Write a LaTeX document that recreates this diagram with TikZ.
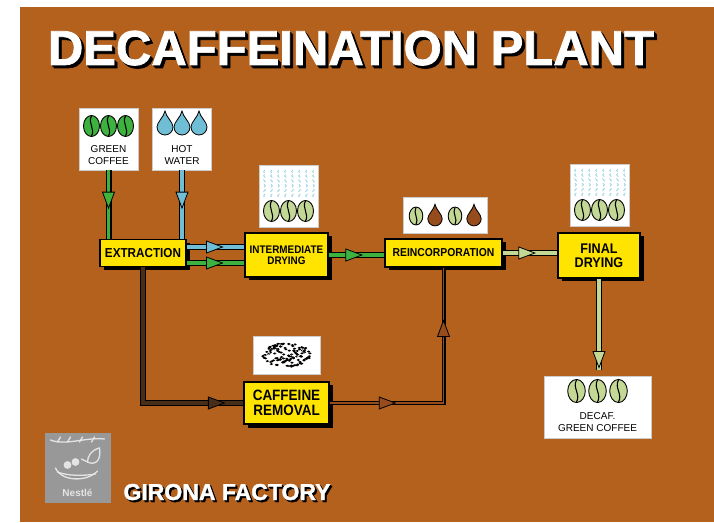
\documentclass[tikz,border=0pt]{standalone}
\usepackage{fontspec}
\setmainfont{Liberation Sans}
\newfontfamily\grasa[FakeBold=1.5]{Liberation Sans}
\newfontfamily\ingust[FakeStretch=0.9]{Liberation Sans}
\usetikzlibrary{positioning, calc, shadows, decorations.markings, decorations.pathmorphing, arrows.meta}

\definecolor{fundal}{RGB}{180,97,30}
\definecolor{galben}{RGB}{255,228,0}
\definecolor{verde}{RGB}{62,178,62}
\definecolor{verdepal}{RGB}{196,216,150}
\definecolor{albastru}{RGB}{112,190,214}
\definecolor{maro}{RGB}{72,46,24}
\definecolor{cafeniu}{RGB}{150,76,28}
\definecolor{gri}{RGB}{152,152,152}
\definecolor{grideschis}{RGB}{228,228,228}

\tikzset{
  proc/.style={draw=black, line width=1.3pt, fill=galben, align=center, inner sep=1pt,
    font=\ingust\bfseries\fontsize{#1}{#1}\selectfont,
    drop shadow={shadow xshift=3.5pt, shadow yshift=-3.5pt, fill=black, opacity=1}},
  icon/.style={draw=gray!40, line width=.6pt, fill=white, inner sep=0pt},
  pipe/.style={draw=black, line width=6pt, postaction={draw=#1, line width=3.4pt}},
  narrow pipe/.style={draw=black, line width=4pt, postaction={draw=#1, line width=1.8pt}},
  tip at/.style 2 args={postaction={decorate, decoration={markings,
    mark=at position #1 with {\draw[black, fill=#2, line width=.8pt, line join=miter]
      (-9,-6) -- (7,0) -- (-9,6) -- cycle;}}}},
  steam/.style={albastru!70, line width=.8pt, decorate,
    decoration={snake, amplitude=.9pt, segment length=4pt}, dash pattern=on 4pt off 2.5pt},
  bean/.pic={
    \draw[black, line width=.9pt, fill=#1] (0,0) ellipse (8 and 10.5);
    \draw[black, line width=1.1pt] (0,10) .. controls (-4,3) and (4,-3) .. (0,-10);
  },
  drop/.pic={
    \draw[black, line width=.8pt, fill=#1] (0,13) .. controls (-1,7) and (-8,2) .. (-8,-3)
      arc[start angle=180, end angle=360, radius=8] .. controls (8,2) and (1,7) .. (0,13) -- cycle;
  },
  mare/.style={font=\grasa\bfseries\fontsize{#1}{#1}\selectfont},
}

\begin{document}
\begin{tikzpicture}[x=1pt, y=1pt]
  \useasboundingbox (0,0) rectangle (714,522);
  % Fundal
  \fill[fundal] (20,0) rectangle (714,515);

  % Titlu cu umbra
  \foreach \d in {1,2,3} {
    \node[mare=49, text=black, anchor=base] (umbra\d) at (351+\d,457-\d) {DECAFFEINATION PLANT};
  }
  \node[mare=49, text=white, anchor=base] (titlu) at (351,457) {DECAFFEINATION PLANT};

  % Cutii de proces
  \node[proc=13, minimum width=86, minimum height=27] (extr) at (143,269) {EXTRACTION};
  \node[proc=11, minimum width=83, minimum height=44] (usc1) at (286.5,267) {INTERMEDIATE\\DRYING};
  \node[proc=11.5, minimum width=117, minimum height=28] (reinc) at (443.5,269) {REINCORPORATION};
  \node[proc=14, minimum width=82, minimum height=45] (usc2) at (599,266.5) {FINAL\\DRYING};
  \node[proc=15, minimum width=85, minimum height=42] (cafeina) at (286.5,119) {CAFFEINE\\REMOVAL};

  % Cutii cu imagini
  \node[icon, minimum width=59, minimum height=62] (cafea) at (108.5,383) {};
  \node[icon, minimum width=59, minimum height=62] (apa) at (182,383) {};
  \node[icon, minimum width=59, minimum height=62] (img1) at (288.5,326) {};
  \node[icon, minimum width=84, minimum height=36] (img2) at (445,307) {};
  \node[icon, minimum width=59, minimum height=62] (img3) at (599.5,327) {};
  \node[icon, minimum width=107, minimum height=62] (decaf) at (597.5,115) {};
  \node[icon, minimum width=67, minimum height=38] (granule) at (286.5,167) {};

  % Cafea verde si apa calda
  \foreach \x in {-17,0,17} {
    \pic at ($(cafea)+(\x,13)$) {bean=verde};
    \pic at ($(apa)+(\x,15)$) {drop=albastru};
  }
  \node[font=\fontsize{10}{11.5}\selectfont, align=center] (cafea txt) at ($(cafea)+(0,-16)$) {GREEN\\COFFEE};
  \node[font=\fontsize{10}{11.5}\selectfont, align=center] (apa txt) at ($(apa)+(0,-16)$) {HOT\\WATER};

  % Abur si boabe uscate
  \foreach \img in {img1,img3} {
    \foreach \x in {-24,-17,...,25} {
      \draw[steam] ($(\img)+(\x,-1)$) -- ($(\img)+(\x,26)$);
    }
    \foreach \x in {-17,0,17} {
      \pic at ($(\img)+(\x,-15)$) {bean=verdepal};
    }
  }

  % Reincorporare: boabe si picaturi
  \pic[scale=.85] at ($(img2)+(-29,-1)$) {bean=verdepal};
  \pic[scale=.9] at ($(img2)+(-10,-1)$) {drop=cafeniu};
  \pic[scale=.85] at ($(img2)+(10,-1)$) {bean=verdepal};
  \pic[scale=.9] at ($(img2)+(29,-1)$) {drop=cafeniu};

  % Cafea decafeinizata
  \foreach \x in {-21,0,21} {
    \pic[scale=1.1] at ($(decaf)+(\x,16)$) {bean=verdepal};
  }
  \node[font=\fontsize{10}{11.5}\selectfont, align=center] (decaf txt) at ($(decaf)+(0,-15)$) {DECAF.\\GREEN COFFEE};

  % Granule de cafeina
  \pgfmathsetseed{12}
  \foreach \k in {1,...,120} {
    \pgfmathsetmacro{\ung}{rnd*360}
    \pgfmathsetmacro{\raza}{sqrt(rnd)}
    \fill[black] ($(granule)+({24*\raza*cos(\ung)},{12*\raza*sin(\ung)})$) ellipse (1.7 and 1.1);
  }
  \foreach \k in {1,...,40} {
    \pgfmathsetmacro{\ung}{rnd*360}
    \pgfmathsetmacro{\raza}{sqrt(rnd)}
    \fill[white] ($(granule)+({22*\raza*cos(\ung)},{11*\raza*sin(\ung)})$) circle (.5);
  }

  % Conducte
  \draw[pipe=verde, tip at={.45}{verde}] (cafea.south) -- (cafea.south |- extr.north);
  \draw[pipe=albastru, tip at={.45}{albastru}] (apa.south) -- (apa.south |- extr.north);
  \draw[pipe=albastru, tip at={.5}{albastru}] ($(extr.east)+(0,6)$) -- ($(usc1.west |- extr.east)+(0,6)$);
  \draw[pipe=verde, tip at={.5}{verde}] ($(extr.east)+(0,-10)$) -- ($(usc1.west |- extr.east)+(0,-10)$);
  \draw[pipe=verde, tip at={.47}{verde}] (usc1.east) -- (usc1.east -| reinc.west);
  \draw[pipe=verdepal, tip at={.46}{verdepal}] (reinc.east) -- (reinc.east -| usc2.west);
  \draw[pipe=verdepal, tip at={.9}{verdepal}] (usc2.south) -- ($(usc2.south |- decaf.north)+(0,6)$);
  \draw[pipe=maro, tip at={.89}{maro}] (extr.south) |- (cafeina.west);
  \draw[narrow pipe=cafeniu, tip at={.235}{cafeniu}, tip at={.76}{cafeniu}] (cafeina.east) -| (reinc.south);

  % Sigla
  \node[fill=gri, minimum width=66, minimum height=70, inner sep=0pt] (logo) at (77.5,54) {};
  \begin{scope}[shift={(logo.center)}, grideschis, line width=1.3pt, line cap=round]
    \draw (-27,28) .. controls (-12,22) and (8,31) .. (27,29);
    \foreach \x in {-20,-10,2,14} {
      \draw (\x,26) -- ++(3,5);
    }
    \draw (-22,0) .. controls (-16,-14) and (10,-14) .. (20,-3);
    \draw (-20,-4) .. controls (-10,-8) and (6,-8) .. (18,-6);
    \draw[fill=grideschis] (-10,3) circle (3.2);
    \draw[fill=grideschis] (-2,6) circle (3.2);
    \draw (22,20) .. controls (24,8) and (18,2) .. (10,6) -- (4,9);
    \draw (22,20) .. controls (14,18) and (10,12) .. (10,6);
    \node[font=\bfseries\fontsize{10}{10}\selectfont, text=grideschis] (nestle) at (0,-25) {Nestlé};
  \end{scope}

  % Fabrica
  \foreach \d in {1,2} {
    \node[mare=23, text=black, anchor=base west] (umbraf\d) at (120+\d,22-\d) {GIRONA FACTORY};
  }
  \node[mare=23, text=white, anchor=base west] (fabrica) at (120,22) {GIRONA FACTORY};
\end{tikzpicture}
\end{document}
